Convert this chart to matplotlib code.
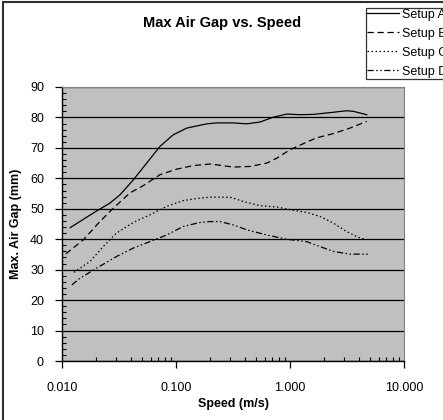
import matplotlib
matplotlib.use("Agg")
import matplotlib.pyplot as plt
from matplotlib.patches import Rectangle
from matplotlib.ticker import FixedLocator, MultipleLocator, FuncFormatter, LogLocator, NullFormatter

plt.rcParams['font.family'] = ['Liberation Sans', 'DejaVu Sans']

# data
speed_a = [0.0118, 0.0188, 0.0264, 0.0323, 0.0422, 0.0553, 0.0724, 0.0946, 0.124, 0.186,
           0.227, 0.318, 0.417, 0.546, 0.715, 0.935, 1.22, 1.6, 2.4, 3.14, 3.6, 4.71]
gap_a = [43.8, 48.6, 51.9, 54.6, 59.5, 65.0, 70.5, 74.3, 76.5, 77.9,
         78.2, 78.2, 77.9, 78.5, 80.1, 81.1, 80.9, 81.0, 81.7, 82.2, 82.0, 80.9]

speed_b = [0.0108, 0.0154, 0.0215, 0.0282, 0.0394, 0.0516, 0.0724, 0.101, 0.142, 0.2,
           0.243, 0.318, 0.446, 0.625, 0.764, 1.0, 1.31, 1.71, 2.4, 3.36, 4.71]
gap_b = [35.2, 39.8, 45.8, 50.2, 55.2, 57.6, 61.2, 63.0, 64.2, 64.7,
         64.3, 63.7, 63.9, 65.0, 66.6, 69.4, 71.4, 73.3, 74.7, 76.5, 78.7]

speed_c = [0.0127, 0.0176, 0.023, 0.030, 0.0422, 0.059, 0.0828, 0.116, 0.162, 0.2,
           0.298, 0.39, 0.546, 0.764, 1.0, 1.4, 1.83, 2.4, 3.14, 4.11, 4.55]
gap_c = [29.1, 32.7, 37.6, 42.0, 45.5, 48.0, 50.8, 52.7, 53.5, 53.8,
         53.8, 52.4, 51.0, 50.6, 49.7, 48.8, 47.5, 45.3, 42.5, 40.4, 40.0]

speed_d = [0.0122, 0.0144, 0.0201, 0.030, 0.0422, 0.059, 0.0828, 0.116, 0.162, 0.2,
           0.243, 0.318, 0.417, 0.625, 0.935, 1.4, 1.83, 2.4, 3.36, 4.87]
gap_d = [25.0, 27.2, 30.5, 34.3, 37.1, 39.2, 41.4, 44.2, 45.5, 45.8,
         45.8, 44.7, 43.1, 41.4, 40.0, 39.2, 37.6, 36.0, 35.1, 35.1]

labels = ["Setup A", "Setup B", "Setup C", "Setup D"]

fig = plt.figure(figsize=(4.43, 4.20), dpi=100)
fig.patches.append(Rectangle((3 / 443, -0.1), 1.2, 1.1 - 2 / 420, transform=fig.transFigure,
                             fill=False, edgecolor='#303030', linewidth=1.5))
ax = fig.add_axes([62 / 443, 59 / 420, 342 / 443, 274 / 420])
ax.set_facecolor('#c0c0c0')

ax.plot(speed_a, gap_a, color='black', lw=0.9, ls='-', label=labels[0])
ax.plot(speed_b, gap_b, color='black', lw=0.9, ls=(0, (5, 3)), label=labels[1])
ax.plot(speed_c, gap_c, color='black', lw=0.9, ls=(0, (1.2, 2)), label=labels[2])
ax.plot(speed_d, gap_d, color='black', lw=0.9, ls=(0, (5, 2, 1.2, 2, 1.2, 2)), label=labels[3])

ax.set_xscale('log')
ax.set_xlim(0.01, 10)
ax.set_ylim(0, 90)
ax.xaxis.set_major_locator(FixedLocator([0.01, 0.1, 1, 10]))
ax.xaxis.set_major_formatter(FuncFormatter(lambda v, p: f"{v:.3f}"))
ax.xaxis.set_minor_locator(LogLocator(base=10, subs=range(2, 10)))
ax.xaxis.set_minor_formatter(NullFormatter())
ax.yaxis.set_major_locator(MultipleLocator(10))
ax.yaxis.set_minor_locator(MultipleLocator(2))

ax.grid(True, which='major', axis='y', color='black', lw=0.9)
ax.set_axisbelow(True)

ax.tick_params(which='major', direction='out', length=5, width=0.9, labelsize=9)
ax.tick_params(which='minor', direction='in', length=3, width=0.8)
ax.tick_params(axis='x', which='both', top=False)
ax.tick_params(axis='y', which='both', right=False)
ax.tick_params(axis='x', pad=10)
ax.tick_params(axis='y', pad=8)

for s in ['top', 'right']:
    ax.spines[s].set_color('#808080')
for s in ['left', 'bottom']:
    ax.spines[s].set_color('black')
    ax.spines[s].set_linewidth(1.0)

ax.set_xlabel("Speed (m/s)", fontsize=9, fontweight='bold', labelpad=3)
ax.set_ylabel("Max. Air Gap (mm)", fontsize=9, fontweight='bold', labelpad=6)
fig.text(222 / 443, 1 - 23 / 420, "Max Air Gap vs. Speed", fontsize=10.5, fontweight='bold',
         ha='center', va='center')

leg = fig.legend(loc='upper left', bbox_to_anchor=(366 / 443, 1 - 8 / 420), fontsize=9,
                 frameon=True, fancybox=False, handlelength=2.6, handletextpad=0.25,
                 labelspacing=0.56, borderpad=0.06, borderaxespad=0)
leg.get_frame().set_edgecolor('black')
leg.get_frame().set_linewidth(0.9)

fig.savefig("out.png", dpi=100)
